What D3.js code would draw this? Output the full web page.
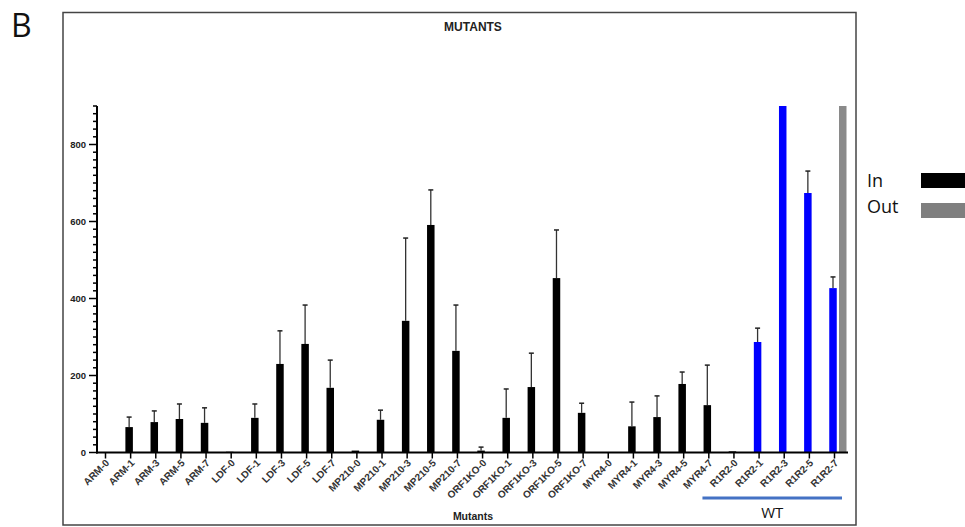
<!DOCTYPE html>
<html>
<head>
<meta charset="utf-8">
<script src="https://cdn.jsdelivr.net/npm/d3@7"></script>
<style>
  body { margin: 0; background: #fff; }
  svg { display: block; }
</style>
</head>
<body>
<script>
const categories = [
  "ARM-0", "ARM-1", "ARM-3", "ARM-5", "ARM-7",
  "LDF-0", "LDF-1", "LDF-3", "LDF-5", "LDF-7",
  "MP210-0", "MP210-1", "MP210-3", "MP210-5", "MP210-7",
  "ORF1KO-0", "ORF1KO-1", "ORF1KO-3", "ORF1KO-5", "ORF1KO-7",
  "MYR4-0", "MYR4-1", "MYR4-3", "MYR4-5", "MYR4-7",
  "R1R2-0", "R1R2-1", "R1R2-3", "R1R2-5", "R1R2-7"
];
const inValues = [
  0, 66, 79, 87, 77,
  2, 90, 230, 282, 168,
  5, 85, 342, 591, 264,
  5, 90, 170, 453, 103,
  0, 68, 92, 178, 123,
  3, 287, 960, 674, 427
];
const inErrors = [
  0, 26, 29, 39, 39,
  0, 36, 86, 101, 72,
  0, 25, 215, 91, 119,
  9, 75, 88, 125, 25,
  0, 63, 55, 31, 104,
  0, 36, 0, 57, 29
];
const outValues = [
  0, 0, 0, 0, 0,
  0, 0, 0, 0, 0,
  0, 0, 0, 0, 0,
  0, 0, 0, 0, 0,
  0, 0, 0, 0, 0,
  0, 0, 0, 0, 960
];
const wtGroup = ["R1R2-0", "R1R2-7"];
const yTicks = [0, 200, 400, 600, 800];
const legendLabels = ["In", "Out"];

const width = 965, height = 527;
const svg = d3.select("body").append("svg")
  .attr("width", width)
  .attr("height", height);

// panel letter
svg.append("text")
  .attr("x", 11).attr("y", 37)
  .attr("font-family", "Open Sans, sans-serif")
  .attr("font-size", 32)
  .attr("fill", "#111")
  .text("B");

// frame
svg.append("rect")
  .attr("x", 63).attr("y", 12.5)
  .attr("width", 793).attr("height", 512.5)
  .attr("fill", "none")
  .attr("stroke", "#444")
  .attr("stroke-width", 1.5);

const y = d3.scaleLinear().domain([0, 900]).range([452.5, 106]);
const x = d3.scalePoint().domain(categories).range([104, 833]);
const barW = 7.5;

const colorOf = d => d.startsWith("R1R2") && d !== "R1R2-0" ? "#0000ff" : "#000";

const plot = svg.append("g");

// clip so the oversized bars stop at the axis top
svg.append("clipPath").attr("id", "clip")
  .append("rect").attr("x", 97).attr("y", 106).attr("width", 760).attr("height", 347);

const bars = plot.append("g").attr("clip-path", "url(#clip)");

// error bars (upper whisker only)
const err = bars.selectAll("g.err")
  .data(categories.map((c, i) => ({c, v: inValues[i], e: inErrors[i]})).filter(d => d.e > 0))
  .join("g");
err.append("line")
  .attr("x1", d => x(d.c)).attr("x2", d => x(d.c))
  .attr("y1", d => y(d.v)).attr("y2", d => y(d.v + d.e))
  .attr("stroke", "#333").attr("stroke-width", 1.3);
err.append("line")
  .attr("x1", d => x(d.c) - 2.5).attr("x2", d => x(d.c) + 2.5)
  .attr("y1", d => y(d.v + d.e)).attr("y2", d => y(d.v + d.e))
  .attr("stroke", "#222").attr("stroke-width", 1.5);

bars.selectAll("rect.in")
  .data(categories.map((c, i) => ({c, v: inValues[i]})))
  .join("rect")
  .attr("class", "in")
  .attr("x", d => x(d.c) - barW / 2)
  .attr("y", d => y(d.v))
  .attr("width", barW)
  .attr("height", d => y(0) - y(d.v))
  .attr("fill", d => colorOf(d.c));

bars.selectAll("rect.out")
  .data(categories.map((c, i) => ({c, v: outValues[i]})).filter(d => d.v > 0))
  .join("rect")
  .attr("class", "out")
  .attr("x", d => x(d.c) + 6)
  .attr("y", d => y(d.v))
  .attr("width", barW)
  .attr("height", d => y(0) - y(d.v))
  .attr("fill", "#8a8a8a");

// y axis
const yAxis = svg.append("g").attr("transform", "translate(97,0)");
yAxis.append("line")
  .attr("x1", 0).attr("x2", 0).attr("y1", y(900)).attr("y2", y(0) + 1)
  .attr("stroke", "#000").attr("stroke-width", 2);
yAxis.selectAll("line.minor")
  .data(d3.range(0, 901, 20))
  .join("line")
  .attr("x1", d => yTicks.includes(d) ? -8 : -4).attr("x2", 0)
  .attr("y1", d => y(d)).attr("y2", d => y(d))
  .attr("stroke", "#000").attr("stroke-width", 1.5);
yAxis.selectAll("text")
  .data(yTicks)
  .join("text")
  .attr("x", -11).attr("y", d => y(d) + 3.5)
  .attr("text-anchor", "end")
  .attr("font-family", "Liberation Sans, Arial, sans-serif")
  .attr("font-weight", "bold")
  .attr("font-size", 9.5)
  .attr("fill", "#222")
  .text(d => d);

// x axis
const xAxis = svg.append("g");
xAxis.append("line")
  .attr("x1", 96).attr("x2", 848).attr("y1", y(0)).attr("y2", y(0))
  .attr("stroke", "#000").attr("stroke-width", 2);
xAxis.selectAll("line.tick")
  .data(categories)
  .join("line")
  .attr("x1", d => x(d) + 1.5).attr("x2", d => x(d) + 1.5)
  .attr("y1", y(0)).attr("y2", y(0) + 6)
  .attr("stroke", "#000").attr("stroke-width", 1.5);
xAxis.selectAll("text")
  .data(categories)
  .join("text")
  .attr("transform", d => `translate(${x(d) + 6},${y(0) + 11}) rotate(-45)`)
  .attr("text-anchor", "end")
  .attr("font-family", "Liberation Sans, Arial, sans-serif")
  .attr("font-weight", "bold")
  .attr("font-size", 10)
  .attr("fill", "#333")
  .text(d => d);

// titles
svg.append("text")
  .attr("x", 473).attr("y", 31)
  .attr("text-anchor", "middle")
  .attr("font-family", "Liberation Sans, Arial, sans-serif")
  .attr("font-weight", "bold")
  .attr("font-size", 12)
  .attr("fill", "#222")
  .text("MUTANTS");
svg.append("text")
  .attr("x", 473).attr("y", 520)
  .attr("text-anchor", "middle")
  .attr("font-family", "Liberation Sans, Arial, sans-serif")
  .attr("font-weight", "bold")
  .attr("font-size", 10.5)
  .attr("fill", "#222")
  .text("Mutants");

// WT bracket
svg.append("line")
  .attr("x1", x(wtGroup[0]) - 30).attr("x2", x(wtGroup[1]) + 9)
  .attr("y1", 498).attr("y2", 498)
  .attr("stroke", "#4472c4").attr("stroke-width", 3);
svg.append("text")
  .attr("x", (x(wtGroup[0]) - 30 + x(wtGroup[1]) + 9) / 2).attr("y", 518)
  .attr("text-anchor", "middle")
  .attr("font-family", "Open Sans, sans-serif")
  .attr("font-size", 15)
  .attr("fill", "#111")
  .text("WT");

// legend
const legend = svg.append("g");
const legendColors = ["#000", "#7f7f7f"];
legendLabels.forEach((l, i) => {
  legend.append("text")
    .attr("x", 867).attr("y", 187 + i * 26)
    .attr("font-family", "Open Sans, sans-serif")
    .attr("font-size", 18)
    .attr("fill", "#111")
    .text(l);
  legend.append("rect")
    .attr("x", 921).attr("y", 173 + i * 30)
    .attr("width", 44).attr("height", 15)
    .attr("fill", legendColors[i]);
});
</script>
</body>
</html>
